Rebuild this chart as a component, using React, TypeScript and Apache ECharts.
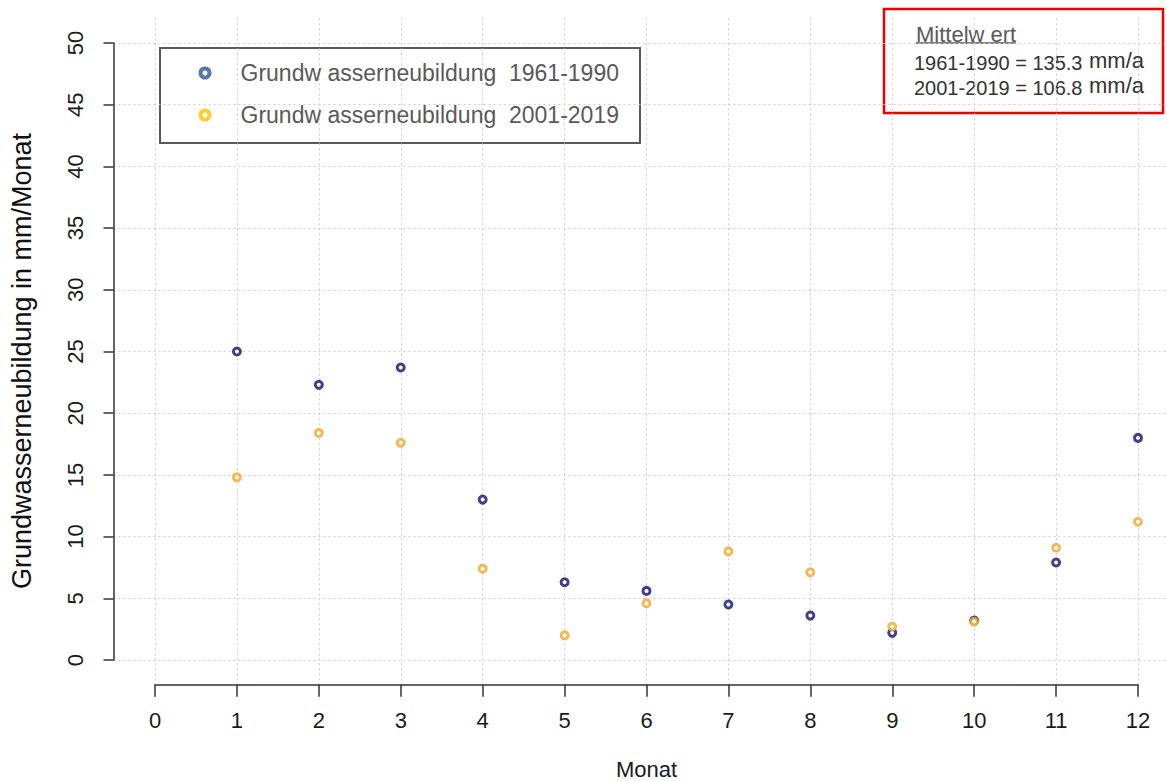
import React, { useEffect, useRef } from "react";
import * as echarts from "echarts";

const months = [1, 2, 3, 4, 5, 6, 7, 8, 9, 10, 11, 12];
const gwn1961_1990 = [25.0, 22.3, 23.7, 13.0, 6.3, 5.6, 4.5, 3.6, 2.2, 3.2, 7.9, 18.0];
const gwn2001_2019 = [14.8, 18.4, 17.6, 7.4, 2.0, 4.6, 8.8, 7.1, 2.7, 3.1, 9.1, 11.2];
const seriesNames = ["Grundw asserneubildung  1961-1990", "Grundw asserneubildung  2001-2019"];
const meanLines = ["1961-1990 = 135.3", "2001-2019 = 106.8"];

const FONT = "Liberation Sans, Arial, sans-serif";
const W = 1167;
const H = 781;
// pixel mapping from reference
const X0 = 155, X12 = 1138;
const Y0 = 660, Y50 = 43;
const pyPerUnit = (Y0 - Y50) / 50;
const pxPerUnit = (X12 - X0) / 12;
const GB_LEFT = 113.5;

export default function App() {
  const ref = useRef<HTMLDivElement>(null);
  useEffect(() => {
    if (!ref.current) return;
    const chart = echarts.init(ref.current, undefined, { renderer: "svg" });
    const topA = Y0 - 52 * pyPerUnit;
    const botA = Y0 + 2 * pyPerUnit;
    const xMinB = (GB_LEFT - X0) / pxPerUnit;
    const xMaxB = (W - X0) / pxPerUnit;
    const gridLine = { show: true, lineStyle: { color: "#cdcdcd", type: [2, 3] as any, width: 1 } };
    const option: any = {
      animation: false,
      backgroundColor: "#ffffff",
      textStyle: { fontFamily: FONT },
      grid: [
        { left: X0, right: W - X12, top: topA, bottom: H - botA, containLabel: false, outerBoundsMode: "none" },
        { left: GB_LEFT, right: 0, top: Y50, bottom: H - Y0, containLabel: false, outerBoundsMode: "none" },
      ],
      xAxis: [
        {
          gridIndex: 0,
          type: "value",
          min: 0,
          max: 12,
          interval: 1,
          position: "bottom",
          axisLine: { show: true, onZero: false, lineStyle: { color: "#333", width: 1.5 } },
          axisTick: { show: true, inside: false, length: 12, lineStyle: { color: "#333", width: 1.5 } },
          axisLabel: { show: true, margin: 25, fontSize: 22, color: "#1a1a1a", fontFamily: FONT },
          splitLine: gridLine,
          name: "Monat",
          nameLocation: "middle",
          nameGap: 74,
          nameTextStyle: { fontSize: 22, color: "#1a1a1a", fontFamily: FONT },
        },
        {
          gridIndex: 1,
          type: "value",
          min: xMinB,
          max: xMaxB,
          show: false,
          splitLine: { show: false },
        },
      ],
      yAxis: [
        {
          gridIndex: 0,
          type: "value",
          min: -2,
          max: 52,
          show: false,
          splitLine: { show: false },
        },
        {
          gridIndex: 1,
          type: "value",
          min: 0,
          max: 50,
          interval: 5,
          position: "left",
          axisLine: { show: true, onZero: false, lineStyle: { color: "#333", width: 1.5 } },
          axisTick: { show: true, inside: false, length: 10, lineStyle: { color: "#333", width: 1.5 } },
          axisLabel: { show: true, rotate: 90, margin: 27, fontSize: 22, color: "#1a1a1a", fontFamily: FONT },
          splitLine: gridLine,
        },
      ],
      legend: {
        orient: "vertical",
        left: 198.5,
        top: 61,
        padding: 0,
        itemGap: 18,
        itemWidth: 9,
        itemHeight: 9,
        textStyle: { fontSize: 23, color: "#595959", lineHeight: 24, padding: [0, 0, 0, 26], fontFamily: FONT },
        data: [
          { name: seriesNames[0], icon: "circle", itemStyle: { color: "#ffffff", borderColor: "#2f5597", borderWidth: 4 } },
          { name: seriesNames[1], icon: "circle", itemStyle: { color: "#ffffff", borderColor: "#ffc000", borderWidth: 4 } },
        ],
      },
      graphic: [
        {
          type: "text",
          x: 22,
          y: 361,
          rotation: Math.PI / 2,
          style: {
            text: "Grundwasserneubildung in mm/Monat",
            fontSize: 27,
            fill: "#111",
            fontFamily: FONT,
            textAlign: "center",
            textVerticalAlign: "middle",
          },
          silent: true,
        },
        {
          type: "rect",
          shape: { x: 160, y: 48, width: 480, height: 95 },
          style: { fill: "none", stroke: "#595959", lineWidth: 2 },
          silent: true,
        },
        {
          type: "rect",
          shape: { x: 884, y: 9, width: 279, height: 104 },
          style: { fill: "none", stroke: "#ee0000", lineWidth: 2.5 },
          silent: true,
        },
        {
          type: "text",
          x: 916,
          y: 34,
          style: { text: "Mittelw ert", fontSize: 22, fill: "#595959", fontFamily: FONT, textVerticalAlign: "middle", textAlign: "left" },
        },
        {
          type: "line",
          shape: { x1: 916, y1: 43, x2: 1016, y2: 43 },
          style: { stroke: "#595959", lineWidth: 1.5 },
        },
        {
          type: "text",
          x: 914,
          y: 63,
          style: { text: meanLines[0], fontSize: 20, fill: "#333", fontFamily: FONT, textVerticalAlign: "middle", textAlign: "left" },
        },
        {
          type: "text",
          x: 1089,
          y: 60,
          style: { text: "mm/a", fontSize: 22, fill: "#333", fontFamily: FONT, textVerticalAlign: "middle", textAlign: "left" },
        },
        {
          type: "text",
          x: 914,
          y: 88,
          style: { text: meanLines[1], fontSize: 20, fill: "#333", fontFamily: FONT, textVerticalAlign: "middle", textAlign: "left" },
        },
        {
          type: "text",
          x: 1089,
          y: 85,
          style: { text: "mm/a", fontSize: 22, fill: "#333", fontFamily: FONT, textVerticalAlign: "middle", textAlign: "left" },
        },
      ],
      series: [
        {
          name: seriesNames[0],
          type: "scatter",
          xAxisIndex: 1,
          yAxisIndex: 1,
          symbol: "circle",
          symbolSize: 7,
          itemStyle: { color: "#ffffff", borderColor: "#10106f", borderWidth: 3 },
          data: months.map((m, i) => [m, gwn1961_1990[i]]),
          z: 3,
        },
        {
          name: seriesNames[1],
          type: "scatter",
          xAxisIndex: 1,
          yAxisIndex: 1,
          symbol: "circle",
          symbolSize: 7,
          itemStyle: { color: "#ffffff", borderColor: "#f0a828", borderWidth: 3 },
          data: months.map((m, i) => [m, gwn2001_2019[i]]),
          z: 4,
        },
      ],
    };
    chart.setOption(option);
    return () => chart.dispose();
  }, []);
  return (
    <div
      ref={ref}
      style={{ position: "fixed", left: 0, top: 0, width: W, height: H, background: "#fff" }}
    />
  );
}
